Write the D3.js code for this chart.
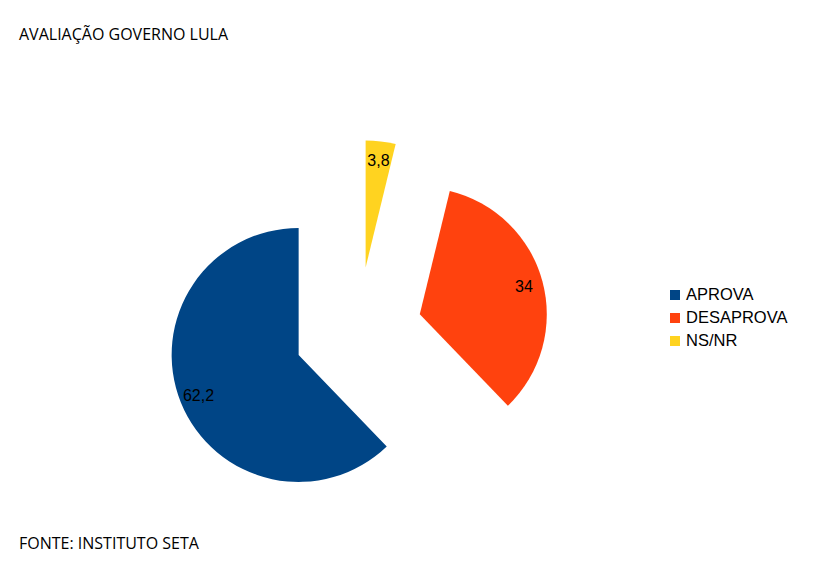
<!DOCTYPE html>
<html>
<head>
<meta charset="utf-8">
<script src="https://cdn.jsdelivr.net/npm/d3@7"></script>
<style>
  body { margin: 0; background: #fff; }
  svg { display: block; }
</style>
</head>
<body>
<svg width="816" height="583"></svg>
<script>
const svg = d3.select('svg');

// Data
const categories = ['APROVA', 'DESAPROVA', 'NS/NR'];
const values     = [62.2, 34, 3.8];
const valueLabels = ['62,2', '34', '3,8'];
const colors     = ['#004586', '#ff420e', '#ffd320'];

const title  = 'AVALIAÇÃO GOVERNO LULA';
const source = 'FONTE: INSTITUTO SETA';

// Layout
const cx = 358, cy = 331, r = 127, explode = 64;

svg.append('text')
   .attr('x', 19).attr('y', 40)
   .attr('font-family', '"Open Sans", sans-serif')
   .attr('font-size', '16px')
   .attr('fill', '#000')
   .text(title);

svg.append('text')
   .attr('x', 19).attr('y', 549)
   .attr('font-family', '"Open Sans", sans-serif')
   .attr('font-size', '16px')
   .attr('fill', '#000')
   .text(source);

// pie goes counter-clockwise from 12 o'clock
const pie = d3.pie().sort(null).startAngle(2 * Math.PI).endAngle(0);
const arcs = pie(values);
const arc = d3.arc().innerRadius(0).outerRadius(r);

const g = svg.append('g').attr('transform', 'translate(' + cx + ',' + cy + ')');

const slice = g.selectAll('g.slice')
  .data(arcs)
  .enter().append('g')
  .attr('class', 'slice')
  .attr('transform', d => {
    const mid = (d.startAngle + d.endAngle) / 2;
    return 'translate(' + (Math.sin(mid) * explode) + ',' + (-Math.cos(mid) * explode) + ')';
  });

slice.append('path')
  .attr('d', arc)
  .attr('fill', (d, i) => colors[i]);

slice.append('text')
  .attr('x', d => Math.sin((d.startAngle + d.endAngle) / 2) * r * 0.85)
  .attr('y', d => -Math.cos((d.startAngle + d.endAngle) / 2) * r * 0.85)
  .attr('text-anchor', 'middle')
  .attr('dy', '0.35em')
  .attr('font-family', '"Liberation Sans", Arial, sans-serif')
  .attr('font-size', '16px')
  .attr('fill', '#000')
  .text((d, i) => valueLabels[i]);

// Legend
const legend = svg.append('g').attr('transform', 'translate(670,290)');
categories.forEach((c, i) => {
  const item = legend.append('g').attr('transform', 'translate(0,' + i * 23 + ')');
  item.append('rect').attr('width', 10).attr('height', 10).attr('fill', colors[i]);
  item.append('text')
      .attr('x', 16).attr('y', 10)
      .attr('font-family', '"Liberation Sans", Arial, sans-serif')
      .attr('font-size', '16.5px')
      .attr('fill', '#000')
      .text(c);
});
</script>
</body>
</html>
